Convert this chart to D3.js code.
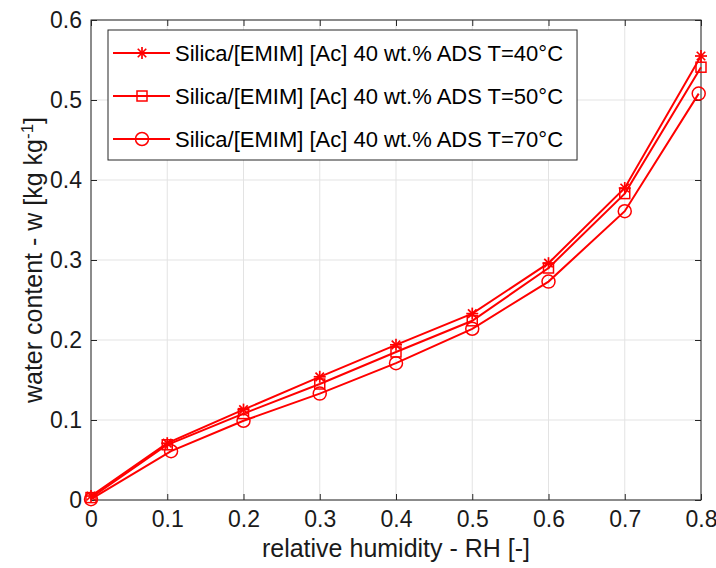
<!DOCTYPE html>
<html>
<head>
<meta charset="utf-8">
<script src="https://cdn.jsdelivr.net/npm/d3@7"></script>
<style>
  body { margin: 0; background: #fff; }
  text { font-family: "Liberation Sans", Arial, Helvetica, sans-serif; }
</style>
</head>
<body>
<div id="chart"></div>
<script>
// data
var rhX = [0, 0.1, 0.2, 0.3, 0.4, 0.5, 0.6, 0.7, 0.8];
var rhX70 = [0, 0.105, 0.2, 0.3, 0.4, 0.5, 0.6, 0.7, 0.797];
var w40 = [0.005, 0.071, 0.113, 0.154, 0.194, 0.233, 0.296, 0.390, 0.555];
var w50 = [0.003, 0.069, 0.108, 0.145, 0.185, 0.224, 0.290, 0.383, 0.541];
var w70 = [0.001, 0.061, 0.099, 0.133, 0.171, 0.214, 0.273, 0.361, 0.508];
var seriesNames = [
  "Silica/[EMIM] [Ac] 40 wt.% ADS T=40\u00B0C",
  "Silica/[EMIM] [Ac] 40 wt.% ADS T=50\u00B0C",
  "Silica/[EMIM] [Ac] 40 wt.% ADS T=70\u00B0C"
];
var markers = ["star", "square", "circle"];
var xTicks = [0, 0.1, 0.2, 0.3, 0.4, 0.5, 0.6, 0.7, 0.8];
var yTicks = [0, 0.1, 0.2, 0.3, 0.4, 0.5, 0.6];

var series = [
  { name: seriesNames[0], marker: markers[0], xs: rhX, ys: w40 },
  { name: seriesNames[1], marker: markers[1], xs: rhX, ys: w50 },
  { name: seriesNames[2], marker: markers[2], xs: rhX70, ys: w70 }
];

var width = 716, height = 568;
var margin = { left: 91, right: 15, top: 20, bottom: 68 };
var plotW = width - margin.left - margin.right;
var plotH = height - margin.top - margin.bottom;
var red = "#ff0000";
var axisColor = "#262626";
var tickFont = "23px", labelFont = "25px", legendFont = "22px";

var svg = d3.select("#chart").append("svg")
  .attr("width", width)
  .attr("height", height);

var main = svg.append("g")
  .attr("transform", "translate(" + margin.left + "," + margin.top + ")");

var x = d3.scaleLinear().domain([0, 0.8]).range([0, plotW]);
var y = d3.scaleLinear().domain([0, 0.6]).range([plotH, 0]);

// grid
main.append("g").selectAll("line")
  .data(xTicks).enter().append("line")
  .attr("x1", d => x(d)).attr("x2", d => x(d))
  .attr("y1", 0).attr("y2", plotH)
  .style("stroke", "#e3e3e3").style("stroke-width", 1);
main.append("g").selectAll("line")
  .data(yTicks).enter().append("line")
  .attr("y1", d => y(d)).attr("y2", d => y(d))
  .attr("x1", 0).attr("x2", plotW)
  .style("stroke", "#e3e3e3").style("stroke-width", 1);

// axes, ticks inward on all four sides
var fmt = d => d === 0 ? "0" : d3.format(".1f")(d);
function styleAxis(g) {
  g.select(".domain").remove();
  g.selectAll(".tick line").style("stroke", axisColor);
  g.selectAll(".tick text").style("fill", "#1a1a1a").style("font-size", tickFont)
    .style("font-family", "'Liberation Sans', Arial, sans-serif");
}
main.append("g").attr("transform", "translate(0," + plotH + ")")
  .call(d3.axisBottom(x).tickValues(xTicks).tickFormat(fmt).tickSizeInner(-6).tickPadding(11))
  .call(styleAxis);
main.append("g")
  .call(d3.axisLeft(y).tickValues(yTicks).tickFormat(fmt).tickSizeInner(-6).tickPadding(9))
  .call(styleAxis);
main.append("g")
  .call(d3.axisTop(x).tickValues(xTicks).tickFormat("").tickSizeInner(-6))
  .call(styleAxis);
main.append("g").attr("transform", "translate(" + plotW + ",0)")
  .call(d3.axisRight(y).tickValues(yTicks).tickFormat("").tickSizeInner(-6))
  .call(styleAxis);

main.append("rect")
  .attr("width", plotW).attr("height", plotH)
  .style("fill", "none").style("stroke", axisColor).style("stroke-width", 1);

// markers
function drawMarker(g, type, cx, cy) {
  if (type === "star") {
    var r = 6;
    [0, 45, 90, 135].forEach(a => {
      var rad = a * Math.PI / 180;
      g.append("line")
        .attr("x1", cx - r * Math.cos(rad)).attr("y1", cy - r * Math.sin(rad))
        .attr("x2", cx + r * Math.cos(rad)).attr("y2", cy + r * Math.sin(rad))
        .style("stroke", red).style("stroke-width", 1.7);
    });
  } else if (type === "square") {
    g.append("rect")
      .attr("x", cx - 5).attr("y", cy - 5)
      .attr("width", 10).attr("height", 10)
      .style("fill", "none").style("stroke", red).style("stroke-width", 1.5);
  } else {
    g.append("circle")
      .attr("cx", cx).attr("cy", cy).attr("r", 6.5)
      .style("fill", "none").style("stroke", red).style("stroke-width", 1.5);
  }
}

var line = d3.line().x(d => x(d[0])).y(d => y(d[1]));
var lineLayer = main.append("g");
series.forEach(s => {
  var pts = s.xs.map((v, i) => [v, s.ys[i]]);
  lineLayer.append("path")
    .datum(pts)
    .attr("d", line)
    .style("fill", "none").style("stroke", red).style("stroke-width", 2);
  pts.forEach(p => drawMarker(lineLayer, s.marker, x(p[0]), y(p[1])));
});

// legend, box sized to its text
var legend = svg.append("g").attr("transform", "translate(108,30)");
var legendBox = legend.append("rect")
  .style("fill", "#fff").style("stroke", axisColor).style("stroke-width", 1);
var maxW = 0;
series.forEach((s, i) => {
  var ly = 23 + i * 43;
  legend.append("line")
    .attr("x1", 5).attr("x2", 62).attr("y1", ly).attr("y2", ly)
    .style("stroke", red).style("stroke-width", 2);
  drawMarker(legend, s.marker, 34, ly);
  var t = legend.append("text")
    .attr("x", 67).attr("y", ly + 8)
    .style("font-size", legendFont).style("fill", "#000")
    .text(s.name);
  maxW = Math.max(maxW, t.node().getComputedTextLength());
});
legendBox.attr("width", 67 + maxW + 14).attr("height", 130);

// axis labels
svg.append("text")
  .attr("x", margin.left + plotW / 2).attr("y", 557)
  .attr("text-anchor", "middle")
  .style("font-size", labelFont).style("fill", "#1a1a1a")
  .text("relative humidity - RH [-]");

var yl = svg.append("text")
  .attr("transform", "translate(42," + (margin.top + plotH / 2) + ") rotate(-90)")
  .attr("text-anchor", "middle")
  .style("font-size", labelFont).style("fill", "#1a1a1a");
yl.append("tspan").text("water content - w [kg kg");
yl.append("tspan").attr("dy", -9).style("font-size", "17px").text("-1");
yl.append("tspan").attr("dy", 9).text("]");
</script>
</body>
</html>
